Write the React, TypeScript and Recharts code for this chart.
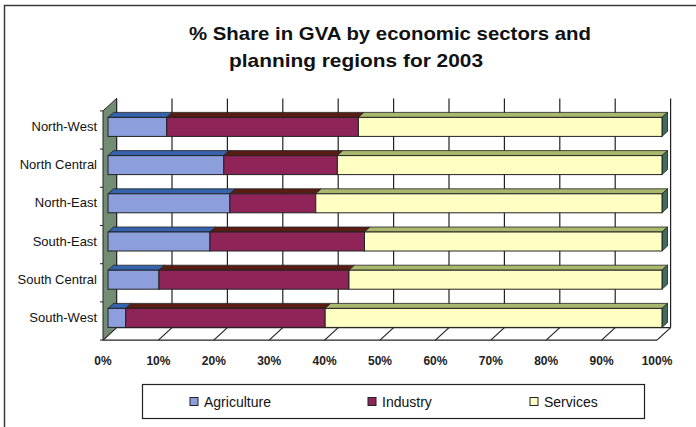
import { BarChart, Bar, XAxis, YAxis, Customized } from "recharts";

const regions = [
  "North-West",
  "North Central",
  "North-East",
  "South-East",
  "South Central",
  "South-West",
];
const agriculture = [10.6, 20.9, 22.0, 18.4, 9.2, 3.2];
const industry = [34.6, 20.5, 15.5, 27.9, 34.3, 36.0];
const services = [54.8, 58.6, 62.5, 53.7, 56.5, 60.8];
const percentTicks = [0, 10, 20, 30, 40, 50, 60, 70, 80, 90, 100];

const seriesInfo = [
  { key: "agriculture", name: "Agriculture", fill: "#8c9fdc", top: "#3563ad" },
  { key: "industry", name: "Industry", fill: "#8e2457", top: "#5a1d14" },
  { key: "services", name: "Services", fill: "#ffffc4", top: "#a9b86c" },
];

const data = regions.map((region, i) => ({
  region,
  agriculture: agriculture[i],
  industry: industry[i],
  services: services[i],
}));

const W = 696;
const H = 427;
const M = { top: 107.4, right: 34, left: 8, bottom: 60.4 };
const Y_AXIS_W = 100;
const X_AXIS_H = 30;
const PLOT_L = M.left + Y_AXIS_W;
const PLOT_R = W - M.right;
const PLOT_T = M.top;
const PLOT_B = H - M.bottom - X_AXIS_H;
// 3d offsets of the front floor edge and back wall, relative to the bar face
const FRONT = { dx: -5, dy: 3.5 };
const BACK = { dx: 8.6, dy: -9 };
const DEPTH = { dx: 5.5, dy: 5 };
const FONT = "'Liberation Sans', Arial, sans-serif";

const xOf = (v: number) => PLOT_L + ((PLOT_R - PLOT_L) * v) / 100;

const Scaffold = () => {
  const bandH = (PLOT_B - PLOT_T) / regions.length;
  const wall = [
    [PLOT_L + FRONT.dx, PLOT_T + FRONT.dy],
    [PLOT_L + BACK.dx, PLOT_T + BACK.dy],
    [PLOT_L + BACK.dx, PLOT_B + BACK.dy],
    [PLOT_L + FRONT.dx, PLOT_B + FRONT.dy],
  ]
    .map((p) => p.join(","))
    .join(" ");
  return (
    <g>
      <rect x={4.5} y={5.5} width={720} height={440} fill="none" stroke="#3a3a3a" strokeWidth={1.5} />
      <text x={189} y={40} fontFamily={FONT} fontWeight="bold" fontSize={19} textLength={402} lengthAdjust="spacingAndGlyphs" fill="#111">
        % Share in GVA by economic sectors and
      </text>
      <text x={229} y={67} fontFamily={FONT} fontWeight="bold" fontSize={19} textLength={254} lengthAdjust="spacingAndGlyphs" fill="#111">
        planning regions for 2003
      </text>
      {/* back wall gridlines */}
      {percentTicks.map((t) => (
        <line key={"g" + t} x1={xOf(t) + BACK.dx} x2={xOf(t) + BACK.dx} y1={PLOT_T + BACK.dy} y2={PLOT_B + BACK.dy} stroke="#222" strokeWidth={1.2} />
      ))}
      {/* floor */}
      <line x1={xOf(0) + BACK.dx} x2={xOf(100) + BACK.dx} y1={PLOT_B + BACK.dy} y2={PLOT_B + BACK.dy} stroke="#222" strokeWidth={1.2} />
      <line x1={xOf(0) + FRONT.dx} x2={xOf(100) + FRONT.dx} y1={PLOT_B + FRONT.dy} y2={PLOT_B + FRONT.dy} stroke="#222" strokeWidth={1.2} />
      {percentTicks.map((t) => (
        <line key={"f" + t} x1={xOf(t) + FRONT.dx} x2={xOf(t) + BACK.dx} y1={PLOT_B + FRONT.dy} y2={PLOT_B + BACK.dy} stroke="#222" strokeWidth={1.2} />
      ))}
      {/* left side wall */}
      <polygon points={wall} fill="#738c74" stroke="#222" strokeWidth={1} />
      {regions.map((r, i) => (
        <line key={"yt" + r} x1={PLOT_L + FRONT.dx - 3} x2={PLOT_L + FRONT.dx} y1={PLOT_T + FRONT.dy + bandH * i} y2={PLOT_T + FRONT.dy + bandH * i} stroke="#222" />
      ))}
      <line x1={PLOT_L + FRONT.dx - 3} x2={PLOT_L + FRONT.dx} y1={PLOT_B + FRONT.dy} y2={PLOT_B + FRONT.dy} stroke="#222" />
      {/* legend */}
      <rect x={142.5} y={384.5} width={502} height={34} fill="#fff" stroke="#222" strokeWidth={1.2} />
      {seriesInfo.map((s, i) => {
        const lx = [190, 368, 530][i];
        return (
          <g key={"lg" + s.key}>
            <rect x={lx} y={397.5} width={8} height={8} fill={s.fill} stroke="#222" />
            <text x={lx + 14} y={406.5} fontFamily={FONT} fontSize={14} fill="#111">
              {s.name}
            </text>
          </g>
        );
      })}
    </g>
  );
};

const Bar3D = (props: any) => {
  const { x, y, width, height, fill, top, last } = props;
  if (!width || width <= 0) return null;
  const { dx, dy } = DEPTH;
  return (
    <g>
      <polygon
        points={`${x},${y} ${x + dx},${y - dy} ${x + width + dx},${y - dy} ${x + width},${y}`}
        fill={top}
        stroke="#222"
        strokeWidth={0.8}
      />
      {last && (
        <polygon
          points={`${x + width},${y} ${x + width + dx},${y - dy} ${x + width + dx},${y + height - dy} ${x + width},${y + height}`}
          fill="#3f6c5c"
          stroke="#222"
          strokeWidth={0.8}
        />
      )}
      <rect x={x} y={y} width={width} height={height} fill={fill} stroke="#222" strokeWidth={1} />
    </g>
  );
};

const XTick = (props: any) => {
  const { x, payload } = props;
  return (
    <text x={x + FRONT.dx} y={PLOT_B + 28} textAnchor="middle" fontFamily={FONT} fontWeight="bold" fontSize={12} fill="#222">
      {payload.value}%
    </text>
  );
};

const YTick = (props: any) => {
  const { y, payload } = props;
  return (
    <text x={97} y={y + 4.5} textAnchor="end" fontFamily={FONT} fontSize={13} fill="#111">
      {payload.value}
    </text>
  );
};

export default function App() {
  return (
    <div style={{ position: "absolute", left: 0, top: 0, width: W, height: H, background: "#fff" }}>
      <BarChart width={W} height={H} data={data} layout="vertical" margin={M} barSize={19}>
        <Customized component={<Scaffold />} />
        <XAxis
          type="number"
          domain={[0, 100]}
          ticks={percentTicks}
          height={X_AXIS_H}
          axisLine={false}
          tickLine={false}
          tick={<XTick />}
          interval={0}
        />
        <YAxis
          type="category"
          dataKey="region"
          width={Y_AXIS_W}
          axisLine={false}
          tickLine={false}
          tick={<YTick />}
          interval={0}
        />
        {seriesInfo.map((s, i) => (
          <Bar
            key={s.key}
            dataKey={s.key}
            name={s.name}
            stackId="a"
            fill={s.fill}
            isAnimationActive={false}
            shape={(p: any) => <Bar3D {...p} fill={s.fill} top={s.top} last={i === seriesInfo.length - 1} />}
          />
        ))}
      </BarChart>
    </div>
  );
}
